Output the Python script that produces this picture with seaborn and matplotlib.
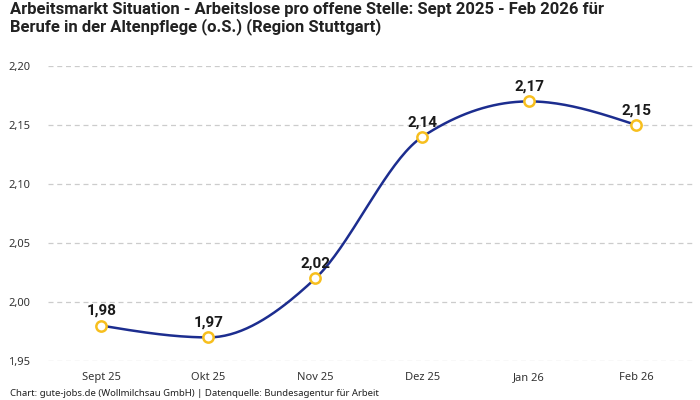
import numpy as np
import pandas as pd
import matplotlib
matplotlib.use("Agg")
import matplotlib.pyplot as plt
import seaborn as sns

months = ["Sept 25", "Okt 25", "Nov 25", "Dez 25", "Jan 26", "Feb 26"]
values = [1.98, 1.97, 2.02, 2.14, 2.17, 2.15]
y_ticks = [1.95, 2.00, 2.05, 2.10, 2.15, 2.20]

title = ("Arbeitsmarkt Situation - Arbeitslose pro offene Stelle: Sept 2025 - Feb 2026 für\n"
         "Berufe in der Altenpflege (o.S.) (Region Stuttgart)")
footer = "Chart: gute-jobs.de (Wollmilchsau GmbH) | Datenquelle: Bundesagentur für Arbeit"

sns.set_theme(style="white")
plt.rcParams["font.family"] = ["Noto Sans", "DejaVu Sans"]
BOLD = ["Roboto", "DejaVu Sans"]

df = pd.DataFrame({"x": np.arange(len(months)), "month": months, "value": values})


def monotone_curve(x, y, n=40):
    x = np.asarray(x, float)
    y = np.asarray(y, float)
    h = np.diff(x)
    s = np.diff(y) / h
    t = np.zeros_like(y)
    for i in range(1, len(y) - 1):
        s0, s1 = s[i - 1], s[i]
        p = (s0 * h[i] + s1 * h[i - 1]) / (h[i - 1] + h[i])
        t[i] = (np.sign(s0) + np.sign(s1)) * min(abs(s0), abs(s1), 0.5 * abs(p))
    t[0] = (3 * s[0] - t[1]) / 2
    t[-1] = (3 * s[-1] - t[-2]) / 2
    xs, ys = [], []
    u = np.linspace(0, 1, n)
    for i in range(len(y) - 1):
        dx = h[i] / 3
        P0 = (x[i], y[i])
        P1 = (x[i] + dx, y[i] + dx * t[i])
        P2 = (x[i + 1] - dx, y[i + 1] - dx * t[i + 1])
        P3 = (x[i + 1], y[i + 1])
        bx = (1 - u) ** 3 * P0[0] + 3 * (1 - u) ** 2 * u * P1[0] + 3 * (1 - u) * u ** 2 * P2[0] + u ** 3 * P3[0]
        by = (1 - u) ** 3 * P0[1] + 3 * (1 - u) ** 2 * u * P1[1] + 3 * (1 - u) * u ** 2 * P2[1] + u ** 3 * P3[1]
        xs.extend(bx)
        ys.extend(by)
    return np.array(xs), np.array(ys)


fig = plt.figure(figsize=(7, 4), dpi=100)
ax = fig.add_axes([48 / 700, 0.0975, (695 - 48) / 700, 0.835 - 0.0975])

cx, cy = monotone_curve(df["x"], df["value"])
curve = pd.DataFrame({"x": cx, "y": cy})
sns.lineplot(data=curve, x="x", y="y", ax=ax, color="#1c2d8f", linewidth=1.8,
             sort=False, estimator=None, zorder=3)
sns.scatterplot(data=df, x="x", y="value", ax=ax, s=55, color="white",
                edgecolor="#f7bf1e", linewidth=1.8, zorder=4)

for xi, v in zip(df["x"], df["value"]):
    ax.annotate(f"{v:.2f}".replace(".", ","), (xi, v), xytext=(0, 5.5),
                textcoords="offset points", ha="center", va="bottom",
                fontsize=11, fontweight="bold", family=BOLD, color="#1a1a1a", zorder=5)

ax.set_xlim(-0.5, 5.55)
ax.set_ylim(1.95, 2.20)
ax.set_yticks(y_ticks)
ax.set_yticklabels([f"{t:.2f}".replace(".", ",") for t in y_ticks], fontsize=8, color="#333333")
ax.set_xticks(df["x"])
ax.set_xticklabels(months, fontsize=8, color="#333333")
ax.tick_params(axis="both", length=0)
ax.tick_params(axis="y", pad=13)
ax.tick_params(axis="x", pad=8)
ax.set_xlabel("")
ax.set_ylabel("")
ax.grid(axis="y", linestyle=(0, (4, 3)), color="#cccccc", linewidth=0.9)
ax.set_axisbelow(True)
for sp in ax.spines.values():
    sp.set_visible(False)

fig.text(10 / 700, 1 - 2 / 400, title, ha="left", va="top", fontsize=12.0,
         fontweight="bold", family=BOLD, color="#222222", linespacing=1.1)
fig.text(10 / 700, 1 - 393 / 400, footer, ha="left", va="center", fontsize=6.9,
         color="#222222")

fig.savefig("out.png", dpi=100)
